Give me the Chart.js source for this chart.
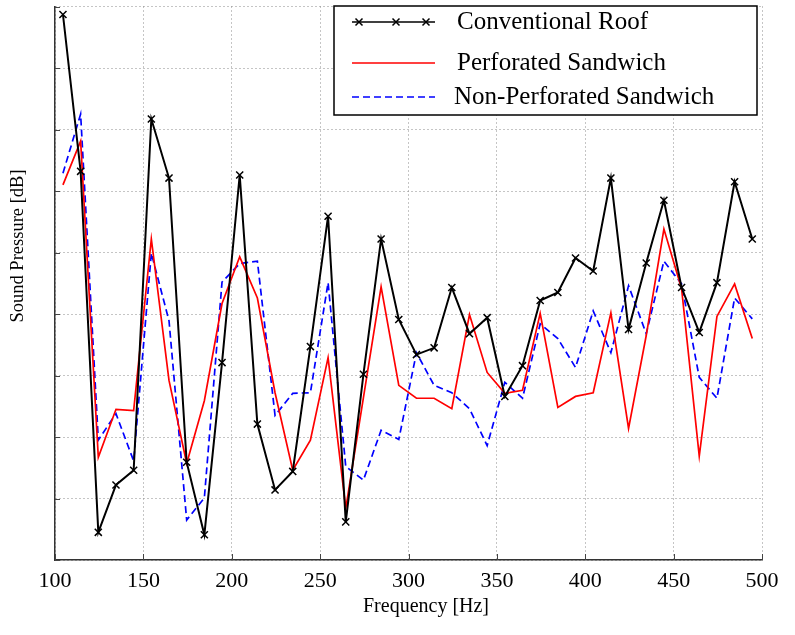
<!DOCTYPE html>
<html>
<head>
<meta charset="utf-8">
<script src="https://cdn.jsdelivr.net/npm/chart.js@4.4.1/dist/chart.umd.min.js"></script>
<style>
  html, body { margin: 0; padding: 0; background: #fff; }
</style>
</head>
<body>
<canvas id="sound" width="795" height="635"></canvas>
<script>
// =====================
// Sound pressure data
// =====================
var freqs = [104.5, 114.5, 124.5, 134.5, 144.5, 154.5, 164.5, 174.5, 184.5, 194.5,
             204.5, 214.5, 224.5, 234.5, 244.5, 254.5, 264.5, 274.5, 284.5, 294.5,
             304.5, 314.5, 324.5, 334.5, 344.5, 354.5, 364.5, 374.5, 384.5, 394.5,
             404.5, 414.5, 424.5, 434.5, 444.5, 454.5, 464.5, 474.5, 484.5, 494.5];

var conventionalRoof = [118.7, 93.2, 34.5, 42.2, 44.6, 101.7, 92.1, 45.9, 34.1, 62.1,
                        92.6, 52.1, 41.4, 44.4, 64.7, 85.9, 36.2, 60.2, 82.2, 69.1,
                        63.4, 64.5, 74.3, 66.8, 69.4, 56.6, 61.6, 72.2, 73.5, 79.1,
                        77.0, 92.1, 67.5, 78.3, 88.5, 74.3, 67.0, 75.1, 91.5, 82.2];

var perforatedSandwich = [91.0, 98.1, 46.7, 54.5, 54.3, 82.2, 59.2, 45.7, 55.9, 71.7,
                          79.3, 72.6, 57.2, 44.6, 49.5, 62.9, 38.4, 56.4, 74.4, 58.4,
                          56.3, 56.3, 54.6, 69.9, 60.5, 57.1, 57.6, 70.1, 54.8, 56.6,
                          57.2, 70.2, 51.4, 66.5, 83.8, 74.1, 46.9, 69.6, 74.9, 66.0];

var nonPerforatedSandwich = [92.9, 102.5, 49.5, 53.8, 46.1, 79.9, 68.9, 36.5, 40.1, 75.2,
                             78.2, 78.6, 53.5, 57.1, 57.2, 75.1, 45.2, 43.0, 51.1, 49.6,
                             63.7, 58.4, 57.2, 54.6, 48.6, 58.9, 56.3, 68.4, 66.0, 61.3,
                             70.5, 63.7, 74.6, 66.8, 78.6, 74.9, 59.7, 56.3, 72.6, 69.2];

var seriesNames = ["Conventional Roof", "Perforated Sandwich", "Non-Perforated Sandwich"];
var xTitle = "Frequency [Hz]";
var yTitle = "Sound Pressure [dB]";

function pairUp(values) {
  return freqs.map(function (f, i) { return { x: f, y: values[i] }; });
}

var serif = "'Liberation Serif', 'Times New Roman', serif";

// inward tick marks on the plot box
var innerTicks = {
  id: 'innerTicks',
  afterDatasetsDraw: function (chart) {
    var ctx = chart.ctx, a = chart.chartArea;
    var xs = chart.scales.x, ys = chart.scales.y;
    ctx.save();
    ctx.strokeStyle = '#444';
    ctx.lineWidth = 1;
    ctx.beginPath();
    xs.ticks.forEach(function (t) {
      var px = Math.round(xs.getPixelForValue(t.value)) + 0.5;
      ctx.moveTo(px, a.bottom); ctx.lineTo(px, a.bottom - 6);
    });
    ys.ticks.forEach(function (t) {
      var py = Math.round(ys.getPixelForValue(t.value)) + 0.5;
      ctx.moveTo(a.left, py); ctx.lineTo(a.left + 5, py);
    });
    ctx.stroke();
    ctx.restore();
  }
};

// axis titles, placed like the original figure (a little off centre)
var axisTitles = {
  id: 'axisTitles',
  afterDraw: function (chart) {
    var ctx = chart.ctx;
    ctx.save();
    ctx.fillStyle = '#000';
    ctx.textAlign = 'center';
    ctx.textBaseline = 'middle';
    ctx.font = "20px " + serif;
    ctx.fillText(xTitle, 426, 607);
    ctx.translate(18, 246);
    ctx.rotate(-Math.PI / 2);
    ctx.font = "18.5px " + serif;
    ctx.fillText(yTitle, 0, 0);
    ctx.restore();
  }
};

// boxed legend in the upper right corner
var boxLegend = {
  id: 'boxLegend',
  afterDraw: function (chart) {
    var ctx = chart.ctx;
    var bx = 334, by = 6, bw = 423, bh = 109;
    var rows = [22, 63, 97];
    ctx.save();
    ctx.fillStyle = '#fff';
    ctx.fillRect(bx, by, bw, bh);
    ctx.strokeStyle = '#000';
    ctx.lineWidth = 1.5;
    ctx.strokeRect(bx, by, bw, bh);
    chart.data.datasets.forEach(function (ds, i) {
      var y = rows[i];
      ctx.strokeStyle = ds.borderColor;
      ctx.lineWidth = 1.5;
      ctx.setLineDash(ds.borderDash || []);
      ctx.beginPath();
      ctx.moveTo(352, y); ctx.lineTo(435, y);
      ctx.stroke();
      ctx.setLineDash([]);
      if (ds.pointStyle === 'crossRot') {
        [359, 396, 426].forEach(function (mx) {
          ctx.beginPath();
          ctx.moveTo(mx - 3.5, y - 3.5); ctx.lineTo(mx + 3.5, y + 3.5);
          ctx.moveTo(mx - 3.5, y + 3.5); ctx.lineTo(mx + 3.5, y - 3.5);
          ctx.stroke();
        });
      }
      ctx.fillStyle = '#000';
      ctx.font = "25px " + serif;
      ctx.textBaseline = 'middle';
      ctx.fillText(ds.label, i === 2 ? 454 : 457, y);
    });
    ctx.restore();
  }
};

var ctxSound = document.getElementById("sound").getContext("2d");

var soundChart = new Chart(ctxSound, {
  type: 'line',
  data: {
    datasets: [
      {
        label: seriesNames[0],
        data: pairUp(conventionalRoof),
        borderColor: '#000000',
        borderWidth: 2,
        pointStyle: 'crossRot',
        pointRadius: 5,
        pointBorderWidth: 1.5,
        pointBorderColor: '#000000',
        tension: 0
      },
      {
        label: seriesNames[1],
        data: pairUp(perforatedSandwich),
        borderColor: '#ff0000',
        borderWidth: 1.7,
        pointRadius: 0,
        tension: 0
      },
      {
        label: seriesNames[2],
        data: pairUp(nonPerforatedSandwich),
        borderColor: '#0000ff',
        borderWidth: 1.7,
        borderDash: [7, 4],
        pointRadius: 0,
        tension: 0
      }
    ]
  },
  options: {
    responsive: false,
    animation: false,
    layout: { padding: { top: 5, right: 33, left: 0, bottom: 0 } },
    plugins: {
      legend: { display: false },
      tooltip: { enabled: false }
    },
    scales: {
      x: {
        type: 'linear',
        min: 100,
        max: 500,
        afterFit: function (scale) { scale.height = 75; },
        ticks: {
          stepSize: 50,
          color: '#000',
          padding: 8,
          maxRotation: 0,
          font: { family: serif, size: 22 }
        },
        grid: { color: '#8a8a8a', lineWidth: 1, drawTicks: false },
        border: { color: '#333', width: 1.5, dash: [1, 3] }
      },
      y: {
        min: 30,
        max: 120,
        afterFit: function (scale) { scale.width = 55; },
        ticks: { stepSize: 10, display: false },
        grid: { color: '#8a8a8a', lineWidth: 1, drawTicks: false },
        border: { color: '#333', width: 1.5, dash: [1, 3] }
      }
    }
  },
  plugins: [innerTicks, axisTitles, boxLegend]
});
</script>
</body>
</html>
